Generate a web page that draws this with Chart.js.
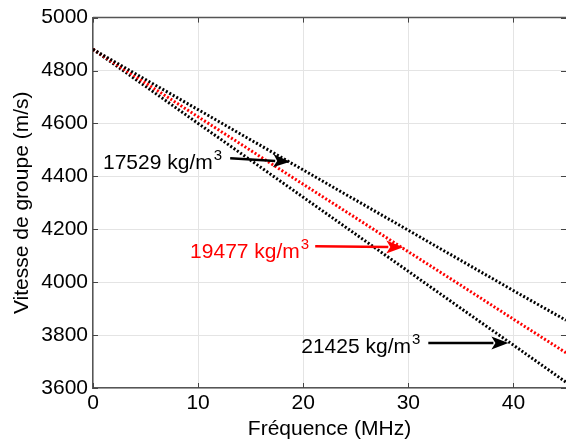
<!DOCTYPE html>
<html>
<head>
<meta charset="utf-8">
<script src="https://cdn.jsdelivr.net/npm/chart.js@4.4.0/dist/chart.umd.min.js"></script>
<style>
html,body{margin:0;padding:0;background:#fff;}
#wrap{width:566px;height:442px;position:relative;}
</style>
</head>
<body>
<div id="wrap"><canvas id="c" width="566" height="442"></canvas></div>
<script>
// Frequencies (MHz)
const freqs = [0, 5, 10, 15, 20, 25, 30, 35, 40, 45];
// Group velocity (m/s) for each density
const v17529 = [4880, 4766, 4652, 4538, 4424, 4310, 4196, 4082, 3968, 3856];
const v19477 = [4880, 4753, 4625, 4498, 4370, 4243, 4115, 3988, 3860, 3733];
const v21425 = [4880, 4740, 4600, 4461, 4321, 4181, 4041, 3901, 3762, 3622];
const xTicks = [0, 10, 20, 30, 40];
const yTicks = [3600, 3800, 4000, 4200, 4400, 4600, 4800, 5000];

// Annotations: label text, colour, text anchor (data), arrow from/to (data)
const notes = [
  {label: '17529 kg/m', sup: '3', color: '#000000', tx: 0.95, ty: 4426, ax0: 13.05, ay0: 4468, ax1: 18.76, ay1: 4455},
  {label: '19477 kg/m', sup: '3', color: '#ff0000', tx: 9.24, ty: 4090, ax0: 21.14, ay0: 4136, ax1: 29.52, ay1: 4132},
  {label: '21425 kg/m', sup: '3', color: '#000000', tx: 19.81, ty: 3732, ax0: 31.9, ay0: 3770, ax1: 39.52, ay1: 3770}
];

const FONT = '"Liberation Sans", Arial, sans-serif';
const FS = 21;

const notesPlugin = {
  id: 'notes',
  afterDatasetsDraw(chart) {
    const ctx = chart.ctx, xs = chart.scales.x, ys = chart.scales.y;
    ctx.save();
    notes.forEach(n => {
      const tx = xs.getPixelForValue(n.tx), ty = ys.getPixelForValue(n.ty);
      ctx.fillStyle = n.color;
      ctx.font = FS + 'px ' + FONT;
      ctx.textBaseline = 'alphabetic';
      ctx.textAlign = 'left';
      ctx.fillText(n.label, tx, ty);
      const w = ctx.measureText(n.label).width;
      ctx.font = '15px ' + FONT;
      ctx.fillText(n.sup, tx + w + 1, ty - 9);
      // arrow
      const x0 = xs.getPixelForValue(n.ax0), y0 = ys.getPixelForValue(n.ay0);
      const x1 = xs.getPixelForValue(n.ax1), y1 = ys.getPixelForValue(n.ay1);
      const ang = Math.atan2(y1 - y0, x1 - x0);
      const hl = 17, hw = 6.5;
      const bx = x1 - hl * Math.cos(ang), by = y1 - hl * Math.sin(ang);
      ctx.strokeStyle = n.color;
      ctx.lineWidth = 2.5;
      ctx.beginPath();
      ctx.moveTo(x0, y0);
      ctx.lineTo(bx + 2 * Math.cos(ang), by + 2 * Math.sin(ang));
      ctx.stroke();
      ctx.beginPath();
      ctx.moveTo(x1, y1);
      ctx.lineTo(bx + hw * Math.sin(ang), by - hw * Math.cos(ang));
      ctx.lineTo(bx + 4 * Math.cos(ang), by + 4 * Math.sin(ang));
      ctx.lineTo(bx - hw * Math.sin(ang), by + hw * Math.cos(ang));
      ctx.closePath();
      ctx.fill();
    });
    ctx.restore();
  },
  beforeDatasetsDraw(chart) {
    // inward tick marks and frame
    const ctx = chart.ctx, xs = chart.scales.x, ys = chart.scales.y, a = chart.chartArea;
    ctx.save();
    ctx.strokeStyle = '#444';
    ctx.lineWidth = 1;
    ctx.beginPath();
    xTicks.forEach(t => {
      const p = Math.round(xs.getPixelForValue(t)) + 0.5;
      ctx.moveTo(p, a.bottom); ctx.lineTo(p, a.bottom - 5);
      ctx.moveTo(p, a.top); ctx.lineTo(p, a.top + 5);
    });
    yTicks.forEach(t => {
      const p = Math.round(ys.getPixelForValue(t)) + 0.5;
      ctx.moveTo(a.left, p); ctx.lineTo(a.left + 5, p);
      ctx.moveTo(a.right, p); ctx.lineTo(a.right - 5, p);
    });
    ctx.stroke();
    ctx.strokeStyle = '#555';
    ctx.lineWidth = 1.5;
    ctx.beginPath();
    ctx.moveTo(a.left, a.top); ctx.lineTo(a.right, a.top);
    ctx.stroke();
    ctx.restore();
  }
};

const mk = (arr, color) => ({
  data: freqs.map((f, i) => ({x: f, y: arr[i]})),
  borderColor: color,
  borderWidth: 3,
  borderDash: [2, 2],
  pointRadius: 0,
  fill: false,
  tension: 0
});

new Chart(document.getElementById('c'), {
  type: 'line',
  data: {
    datasets: [mk(v17529, '#000000'), mk(v19477, '#ff0000'), mk(v21425, '#000000')]
  },
  options: {
    responsive: false,
    animation: false,
    devicePixelRatio: 1,
    layout: {padding: {top: 17, right: 0, left: 0, bottom: 0}},
    plugins: {legend: {display: false}, tooltip: {enabled: false}},
    scales: {
      x: {
        type: 'linear', min: 0, max: 45,
        afterBuildTicks(s) { s.ticks = xTicks.map(v => ({value: v})); },
        afterFit(s) { s.height = 54; },
        grid: {color: '#e4e4e4', lineWidth: 1, drawTicks: false, tickLength: 0},
        border: {display: true, color: '#555', width: 1.5},
        ticks: {color: '#000', font: {family: FONT, size: FS}, padding: 3, maxRotation: 0, callback: v => String(v)},
        title: {display: true, text: 'Fréquence (MHz)', color: '#000', font: {family: FONT, size: FS}, padding: {top: 0, bottom: 0}}
      },
      y: {
        type: 'linear', min: 3600, max: 5000,
        afterBuildTicks(s) { s.ticks = yTicks.map(v => ({value: v})); },
        afterFit(s) { s.width = 93; },
        grid: {color: '#e4e4e4', lineWidth: 1, drawTicks: false, tickLength: 0},
        border: {display: true, color: '#555', width: 1.5},
        ticks: {color: '#000', font: {family: FONT, size: FS}, padding: 5, callback: v => String(v)},
        title: {display: true, text: 'Vitesse de groupe (m/s)', color: '#000', font: {family: FONT, size: FS}, padding: {top: 10, bottom: 0}}
      }
    }
  },
  plugins: [notesPlugin]
});
</script>
</body>
</html>
